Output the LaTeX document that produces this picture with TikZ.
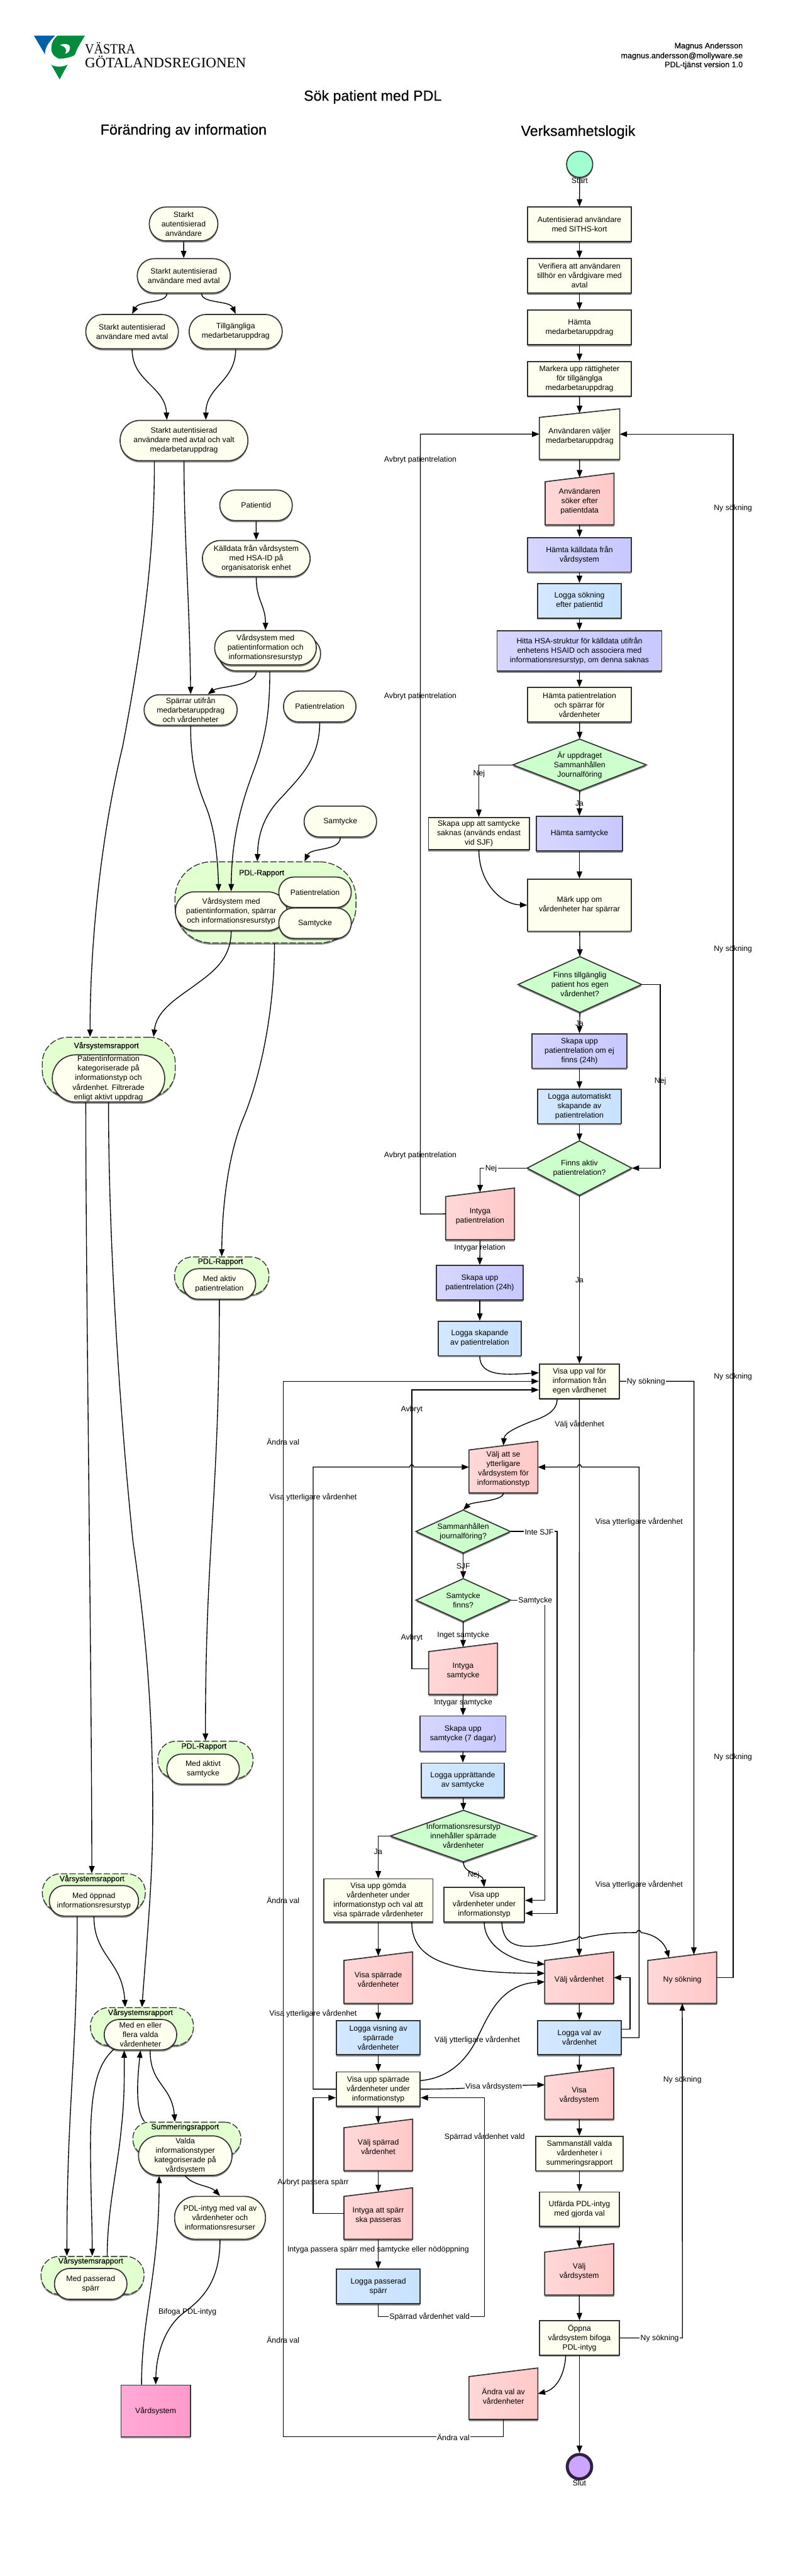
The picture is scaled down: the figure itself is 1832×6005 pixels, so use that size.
\documentclass[tikz,border=0pt]{standalone}
\usepackage{fontspec}
\setmainfont{Liberation Sans}
\newfontfamily\logofont{Liberation Serif}
\newfontfamily\heavyfont[FakeBold=0.35]{Liberation Sans}
\usetikzlibrary{arrows.meta,shadows,calc}
\definecolor{ln}{HTML}{333333}
\definecolor{yel}{HTML}{FFFFF0}
\definecolor{grn}{HTML}{CCFFCC}
\definecolor{grp}{HTML}{E2FFD0}
\definecolor{logob}{HTML}{0060A8}
\definecolor{logog}{HTML}{008C3C}
\tikzset{
  every node/.style={font=\fontsize{18}{22}\selectfont},
  sh/.style={drop shadow={shadow xshift=0pt,shadow yshift=-4pt,opacity=.45,fill=black}},
  box/.style={draw=ln,line width=2.5pt,sh,align=center,inner sep=0pt},
  ye/.style={fill=yel},
  pu/.style={left color={rgb,255:red,214;green,214;blue,255},right color={rgb,255:red,200;green,200;blue,255}},
  bl/.style={left color={rgb,255:red,212;green,232;blue,255},right color={rgb,255:red,200;green,226;blue,255}},
  pk/.style={left color={rgb,255:red,255;green,216;blue,216},right color={rgb,255:red,255;green,200;blue,200}},
  vs/.style={left color={rgb,255:red,255;green,170;blue,214},right color={rgb,255:red,255;green,153;blue,204}},
  txt/.style={align=center,inner sep=0pt},
  gtxt/.style={align=center,inner sep=0pt,font=\heavyfont\fontsize{18}{22}\selectfont},
  arr/.style={line width=2pt,black,-{Triangle[length=17pt,width=13pt]}},
  lab/.style={align=center,inner sep=0pt},
  labw/.style={align=center,fill=white,inner sep=2pt},
  ttl/.style={font=\heavyfont\fontsize{34}{40}\selectfont,inner sep=0pt},
  auth/.style={font=\heavyfont\fontsize{18.5}{23}\selectfont,anchor=east,inner sep=0pt},
}
\newcommand{\rbox}[7]{\node[box,#2,minimum width=#5pt,minimum height=#6pt] (#1) at (#3,#4) {#7};}
\newcommand{\pill}[6]{\pgfmathsetmacro{\pillr}{#5/2-0.5}%
  \node[box,ye,rounded corners=\pillr pt,minimum width=#4pt,minimum height=#5pt] (#1) at (#2,#3) {#6};}
\newcommand{\grpbox}[6]{\node[draw=ln,line width=2pt,dash pattern=on 15pt off 5pt,fill=grp,sh,inner sep=0pt,rounded corners=#6pt,minimum width=#4pt,minimum height=#5pt] (#1) at (#2,#3) {};}
\newcommand{\pform}[7]{%
  \pgfmathsetmacro{\pfxc}{(#3+#4)/2}\pgfmathsetmacro{\pfyl}{#5+20}%
  \pgfmathsetmacro{\pfyc}{(#5+10+#6)/2}\pgfmathsetmacro{\pfw}{#4-#3}%
  \pgfmathsetmacro{\pfh}{#6-#5-10}\pgfmathsetmacro{\pfys}{(#5+#6)/2}%
  \path[box,#2] (#3,\pfyl) -- (#4,#5) -- (#4,#6) -- (#3,#6) -- cycle;
  \node[txt,minimum width=\pfw pt,minimum height=\pfh pt] (#1) at (\pfxc,\pfyc) {#7};
  \coordinate (#1w) at (#3,\pfys);
  \coordinate (#1e) at (#4,\pfys);
}
\newcommand{\pdiam}[6]{%
  \pgfmathsetmacro{\dxa}{#2-#4/2}\pgfmathsetmacro{\dxb}{#2+#4/2}%
  \pgfmathsetmacro{\dya}{#3-#5/2}\pgfmathsetmacro{\dyb}{#3+#5/2}%
  \path[box,fill=grn] (\dxa,#3) -- (#2,\dya) -- (\dxb,#3) -- (#2,\dyb) -- cycle;
  \node[txt,minimum width=#4pt,minimum height=#5pt] (#1) at (#2,#3) {#6};
}
\begin{document}
\begin{tikzpicture}[x=1pt,y=-1pt]
\useasboundingbox (0,0) rectangle (1832,6005);
\fill[white] (0,0) rectangle (1832,6005);

% logo
\fill[logob] (79,83) -- (128.5,83) .. controls (112,100) and (104,112) .. (105,127) -- cycle;
\fill[logog] (134,83) -- (198,83) .. controls (188,100) and (178,115) .. (175,127) .. controls (172,132) and (150,137) .. (138,137) .. controls (125,132) and (118,122) .. (120,110) .. controls (120,98) and (126,90) .. (134,83) -- cycle;
\fill[white] (140,105) .. controls (152,100) and (165,103) .. (163,113) .. controls (162,120) and (157,125) .. (152,125) .. controls (156,118) and (156,110) .. (140,105) -- cycle;
\fill[logog] (119,150) .. controls (125,157) and (150,157) .. (158,150) -- (139,185) -- cycle;
\node[anchor=base west,inner sep=0pt,font=\logofont\fontsize{33}{33}\selectfont,xscale=.89] (logoa) at (198,125) {VÄSTRA};
\node[anchor=base west,inner sep=0pt,font=\logofont\fontsize{33.7}{33}\selectfont] (logob) at (198,157) {GÖTALANDSREGIONEN};

\node[auth] (au1) at (1732,108) {Magnus Andersson};
\node[auth] (au2) at (1732,131) {magnus.andersson@mollyware.se};
\node[auth] (au3) at (1732,152) {PDL-tjänst version 1.0};
\node[ttl] (title) at (869,226) {Sök patient med PDL};
\node[ttl] (hleft) at (428,305) {Förändring av information};
\node[ttl] (hright) at (1348,308) {Verksamhetslogik};

% ---------- left column
\pill{A}{428}{522}{160}{79}{Starkt\\autentisierad\\användare}
\pill{B}{428.5}{643}{217}{80}{Starkt autentisierad\\användare med avtal}
\pill{C}{308}{773}{216}{80}{Starkt autentisierad\\användare med avtal}
\pill{D}{549.5}{773}{217}{80}{Tillgängliga\\medarbetaruppdrag}
\pill{E}{429}{1027}{298}{94}{Starkt autentisierad\\användare med avtal och valt\\medarbetaruppdrag}
\pill{F}{597}{1178}{169}{71}{Patientid}
\pill{G}{597.5}{1302}{251}{84}{Källdata från vårdsystem\\med HSA-ID på\\organisatorisk enhet}
\pill{Hb}{629}{1524}{237}{80}{}
\pill{H}{619}{1510}{237}{80}{Vårdsystem med\\patientinformation och\\informationsresurstyp}
\pill{I}{444.5}{1655}{217}{71}{Spärrar utifrån\\medarbetaruppdrag\\och vårdenheter}
\pill{J}{745.5}{1647}{169}{72}{Patientrelation}
\pill{K}{793.5}{1915}{169}{72}{Samtycke}

\grpbox{L}{619}{2103.5}{422}{189}{85}
\node[gtxt] (Ltx) at (610,2036) {PDL-Rapport};
\pill{M}{539}{2124}{260}{90}{Vårdsystem med\\patientinformation, spärrar\\och informationsresurstyp}
\pill{N}{734.5}{2080}{169}{71}{Patientrelation}
\pill{O}{734.5}{2152}{169}{71}{Samtycke}

\grpbox{P}{253.6}{2487}{310}{138}{60}
\node[gtxt] (Ptx) at (248,2438) {Vårsystemsrapport};
\pill{Q}{253}{2514}{262}{110}{Patientinformation\\kategoriserade på\\informationstyp och\\vårdenhet. Filtrerade\\enligt aktivt uppdrag}

\grpbox{R}{517}{2974}{220}{88}{42}
\node[gtxt] (Rtx) at (514,2942) {PDL-Rapport};
\pill{S}{511.5}{2993}{169}{71}{Med aktiv\\patientrelation}

\grpbox{T}{479}{4102.5}{222}{87}{42}
\node[gtxt] (Ttx) at (475.5,4072) {PDL-Rapport};
\pill{U}{473.5}{4124}{169}{70}{Med aktivt\\samtycke}

\grpbox{V}{218.8}{4411.5}{240}{87}{42}
\node[gtxt] (Vtx) at (214.5,4380) {Vårsystemsrapport};
\pill{W}{219}{4431}{208}{71}{Med öppnad\\informationsresurstyp}

\grpbox{X}{331}{4724}{240}{88}{42}
\node[gtxt] (Xtx) at (327.5,4692) {Vårsystemsrapport};
\pill{Y}{327.5}{4743}{169}{71}{Med en eller\\flera valda\\vårdenheter}

\grpbox{Z}{435.75}{4986}{252}{78}{38}
\node[gtxt] (Ztx) at (431.5,4959) {Summeringsrapport};
\pill{AA}{432}{5025}{218}{92}{Valda\\informationstyper\\kategoriserade på\\vårdsystem}

\pill{AB}{513}{5170}{212}{100}{PDL-intyg med val av\\vårdenheter och\\informationsresurser}

\grpbox{AC}{215.75}{5304}{240}{88}{42}
\node[gtxt] (ACtx) at (211.5,5271) {Vårsystemsrapport};
\pill{AD}{211.5}{5324}{169}{72}{Med passerad\\spärr}

\rbox{AE}{vs}{363}{5620}{162}{120}{Vårdsystem}

% ---------- right column
\node[draw=ln,line width=2.5pt,sh,circle,inner sep=0pt,minimum size=61pt,fill={rgb,255:red,160;green,255;blue,208}] (start) at (1351.5,383) {};
\rbox{r1}{ye}{1351}{523}{241}{80.5}{Autentisierad användare\\med SITHS-kort}
\rbox{r2}{ye}{1351}{643}{241}{80.5}{Verifiera att användaren\\tillhör en vårdgivare med\\avtal}
\rbox{r3}{ye}{1351}{763.5}{241}{80.5}{Hämta\\medarbetaruppdrag}
\rbox{r4}{ye}{1351}{883}{241}{80.5}{Markera upp rättigheter\\för tillgänglga\\medarbetaruppdrag}
\pform{r5}{ye}{1257.6}{1445}{953}{1071}{Användaren väljer\\medarbetaruppdrag}
\pform{r6}{pk}{1271}{1431.5}{1103}{1223.5}{Användaren\\söker efter\\patientdata}
\rbox{r7}{pu}{1351}{1293.3}{241}{80.5}{Hämta källdata från\\vårdsystem}
\rbox{r8}{bl}{1351}{1400.5}{195}{80.5}{Logga sökning\\efter patientid}
\rbox{r9}{pu}{1351}{1517.3}{384}{94.5}{Hitta HSA-struktur för källdata utifrån\\enhetens HSAID och associera med\\informationsresurstyp, om denna saknas}
\rbox{r10}{ye}{1351}{1643}{241}{80.5}{Hämta patientrelation\\och spärrar för\\vårdenheter}
\pdiam{d1}{1351.5}{1783}{311}{120}{Är uppdraget\\Sammanhållen\\Journalföring}
\rbox{r11}{ye}{1116.5}{1943}{235}{75}{Skapa upp att samtycke\\saknas (används endast\\vid SJF)}
\rbox{r12}{pu}{1351}{1943}{201}{80.5}{Hämta samtycke}
\rbox{r13}{ye}{1351}{2110}{241}{121}{Märk upp om\\vårdenheter har spärrar}
\pdiam{d2}{1352}{2295}{288}{130}{Finns tillgänglig\\patient hos egen\\vårdenhet?}
\rbox{r14}{pu}{1351}{2450}{221}{80}{Skapa upp\\patientrelation om ej\\finns (24h)}
\rbox{r15}{bl}{1351}{2579}{195}{80}{Logga automatiskt\\skapande av\\patientrelation}
\pdiam{d3}{1351}{2723}{244}{127}{Finns aktiv\\patientrelation?}
\pform{p1}{pk}{1039}{1199.6}{2769.4}{2890}{Intyga\\patientrelation}
\rbox{r16}{pu}{1118.6}{2990}{202}{80}{Skapa upp\\patientrelation (24h)}
\rbox{r17}{bl}{1118.6}{3120}{194}{80}{Logga skapande\\av patientrelation}
\rbox{r18}{ye}{1351}{3220}{187}{80}{Visa upp val för\\information från\\egen vårdhenet}
\pform{p2}{pk}{1093.5}{1254}{3360}{3480}{Välj att se\\ytterligare\\vårdsystem för\\informationstyp}
\pdiam{d4}{1080}{3570}{220}{100}{Sammanhållen\\journalföring?}
\pdiam{d5}{1080}{3730}{220}{100}{Samtycke\\finns?}
\pform{p3}{pk}{999.4}{1160}{3830}{3950}{Intyga\\samtycke}
\rbox{r19}{pu}{1079.5}{4041}{200}{82}{Skapa upp\\samtycke (7 dagar)}
\rbox{r20}{bl}{1079}{4150}{193}{80}{Logga upprättande\\av samtycke}
\pdiam{d6}{1080.5}{4280}{341}{120}{Informationsresurstyp\\innehåller spärrade\\vårdenheter}
\rbox{r21}{ye}{882}{4430}{255}{100}{Visa upp gömda\\vårdenheter under\\informationstyp och val att\\visa spärrade vårdenheter}
\rbox{r22}{ye}{1129}{4440}{188}{80}{Visa upp\\vårdenheter under\\informationstyp}
\pform{p4}{pk}{802}{962}{4550}{4670}{Visa spärrade\\vårdenheter}
\pform{p5}{pk}{1270}{1431}{4550}{4670}{Välj vårdenhet}
\pform{p6}{pk}{1510.5}{1671}{4550}{4670}{Ny sökning}
\rbox{r23}{bl}{882}{4750}{195.5}{80}{Logga visning av\\spärrade\\vårdenheter}
\rbox{r24}{bl}{1351}{4750}{195}{80}{Logga val av\\vårdenhet}
\rbox{r25}{ye}{882}{4870}{195.5}{80}{Visa upp spärrade\\vårdenheter under\\informationstyp}
\pform{p7}{pk}{1270}{1431}{4820}{4940}{Visa\\vårdsystem}
\pform{p8}{pk}{802}{962}{4940}{5060}{Välj spärrad\\vårdenhet}
\rbox{r26}{ye}{1351}{5020}{203}{80}{Sammanställ valda\\vårdenheter i\\summeringsrapport}
\pform{p9}{pk}{802}{962}{5100}{5220}{Intyga att spärr\\ska passeras}
\rbox{r27}{ye}{1351}{5150}{187}{80}{Utfärda PDL-intyg\\med gjorda val}
\pform{p10}{pk}{1270}{1431}{5230}{5350}{Välj\\vårdsystem}
\rbox{r28}{bl}{882}{5330}{195.5}{80}{Logga passerad\\spärr}
\rbox{r29}{ye}{1351}{5450}{187}{80}{Öppna\\vårdsystem bifoga\\PDL-intyg}
\pform{p11}{pk}{1093.5}{1254}{5520}{5640}{Ändra val av\\vårdenheter}
\node[draw={rgb,255:red,46;green,34;blue,64},line width=7pt,sh,circle,inner sep=0pt,minimum size=57pt,fill={rgb,255:red,205;green,165;blue,255}] (end) at (1351,5750) {};

% ---------- left connectors
\draw[arr] (A) -- (B);
\draw[arr] ([xshift=-39.5pt]B.south) .. controls (389,708) and (325,700) .. (C.north);
\draw[arr] ([xshift=41.5pt]B.south) .. controls (470,708) and (535,700) .. (D.north);
\draw[arr] (C.south) .. controls (308,890) and (385,900) .. ([xshift=-40pt]E.north);
\draw[arr] (D.south) .. controls (549,890) and (480,900) .. ([xshift=51pt]E.north);
\draw[arr] ([xshift=-69pt]E.south) .. controls (360,1250) and (345,1430) .. (286,1740) .. controls (235,1950) and (210,2200) .. ([xshift=-43.6pt]P.north);
\draw[arr] (E.south) .. controls (429,1250) and (442,1400) .. (I.north);
\draw[arr] (F) -- (G);
\draw[arr] (G.south) .. controls (597,1400) and (619,1410) .. (H.north);
\draw[arr] ([xshift=-31.5pt]Hb.south) .. controls (597,1600) and (510,1600) .. ([xshift=40pt]I.north);
\draw[arr] (Hb.south) .. controls (629,1660) and (620,1720) .. (590,1800) .. controls (560,1880) and (540,1960) .. (M.north);
\draw[arr] (I.south) .. controls (444,1780) and (460,1830) .. (480,1880) .. controls (500,1930) and (507,1990) .. ([xshift=-29pt]M.north);
\draw[arr] (J.south) .. controls (745,1770) and (700,1810) .. (660,1855) .. controls (625,1890) and (602,1930) .. ([xshift=-19pt]L.north);
\draw[arr] (K.south) .. controls (793,1985) and (725,1975) .. ([xshift=91pt]L.north);
\draw[arr] (M.south) .. controls (539,2240) and (490,2270) .. (450,2300) .. controls (400,2335) and (365,2360) .. ([xshift=104.4pt]P.north);
\draw[arr] ([xshift=21pt]L.south) .. controls (640,2350) and (610,2500) .. (570,2600) .. controls (535,2680) and (518,2800) .. (R.north);
\draw[arr] ([xshift=-53pt]Q.south) .. controls (200,3000) and (214,3900) .. ([xshift=-4.8pt]V.north);
\draw[arr] (Q.south) .. controls (253,2900) and (280,3300) .. (310,3593) .. controls (340,3800) and (358,4000) .. (356,4253) .. controls (355,4400) and (340,4550) .. (X.north);
\draw[arr] (S.south) .. controls (511,3500) and (479,3600) .. (T.north);
\draw[arr] ([xshift=-39pt]W.south) .. controls (180,4800) and (156,4900) .. ([xshift=-59.75pt]AC.north);
\draw[arr] (W.south) .. controls (219,4560) and (285,4570) .. ([xshift=-39pt]X.north);
\draw[arr] ([xshift=-62pt,yshift=3pt]Y.south) .. controls (230,4810) and (211,4860) .. (211,5000) .. controls (211,5100) and (215,5180) .. ([xshift=-0.75pt]AC.north);
\draw[arr] ([xshift=34.25pt]AC.north) .. controls (250,5150) and (275,5050) .. (283,4960) .. controls (290,4900) and (290,4840) .. ([xshift=-38pt]Y.south);
\draw[arr] ([xshift=-98.75pt]Z.north) .. controls (315,4920) and (320,4850) .. (Y.south);
\draw[arr] ([xshift=22.5pt]Y.south) .. controls (350,4860) and (400,4860) .. ([xshift=-27.75pt]Z.north);
\draw[arr] (AA.south) .. controls (450,5095) and (490,5095) .. (AB.north);
\draw[arr] (AB.south) .. controls (513,5320) and (470,5360) .. (430,5390) .. controls (395,5415) and (365,5470) .. (AE.north);
\draw[arr] ([xshift=-33pt]AE.north) .. controls (330,5400) and (371,5300) .. ([xshift=-61pt]AA.south);

% ---------- right connectors
\draw[arr] (start) -- (r1);
\draw[arr] (r1) -- (r2);
\draw[arr] (r2) -- (r3);
\draw[arr] (r3) -- (r4);
\draw[arr] (r4) -- (r5.north);
\draw[arr] (r5.south) -- (r6.north);
\draw[arr] (r6.south) -- (r7);
\draw[arr] (r7) -- (r8);
\draw[arr] (r8) -- (r9);
\draw[arr] (r9) -- (r10);
\draw[arr] (r10) -- (d1.north);
\draw[arr] (d1.west) -| (r11.north);
\draw[arr] (d1.south) -- (r12.north);
\draw[arr] (r12) -- (r13);
\draw[arr] (r11.south) .. controls (1117,2060) and (1170,2108) .. (r13.west);
\draw[arr] (r13) -- (d2.north);
\draw[arr] (d2.south) -- (r14.north);
\draw[arr] (r14) -- (r15);
\draw[arr] (r15) -- (d3.north);
\draw[arr] (d2.east) -- (1539.5,2295) |- (d3.east);
\draw[arr] (d3.west) -| (p1.north);
\draw[arr] (d3.south) -- (r18.north);
\draw[arr] (p1w) -- (980,2830) |- (r5w);
\draw[arr] (p1.south) -- (r16.north);
\draw[arr] (r16) -- (r17);
\draw[arr] (r17.south) .. controls (1118.6,3210) and (1180,3205) .. ([yshift=20pt]r18.west);
\draw[arr] (p11.south) |- (660,5680) |- (r18.west);
\draw[arr] (p3w) -- (960,3890) |- ([yshift=-20pt]r18.west);
\draw[arr] (r18.east) -- (1618,3220) -- ([xshift=27pt,yshift=3.4pt]p6.north);
\draw[arr] (r18.south) -- (p5.north);
\draw[arr] ([xshift=-52pt]r18.south) .. controls (1299,3290) and (1270,3303) .. (1240,3313) .. controls (1205,3327) and (1176,3340) .. (p2.north);
\draw[arr] (r25.west) -- (730,4870) -- (730,3420) -- (955,3420) .. controls (957,3412) and (963,3412) .. (965,3420) -- (p2w);
\draw[arr] (r24.east) -- (1490,4750) -- (1490,3420) -- (1356,3420) .. controls (1354,3412) and (1348,3412) .. (1346,3420) -- (p2e);
\draw[arr] (p2.south) .. controls (1174,3500) and (1100,3500) .. (d4.north);
\draw[arr] (d4.south) -- (d5.north);
\draw[arr] (d4.east) -- (1299,3570) |- ([yshift=-20pt]r22.east);
\draw[arr] (d5.east) -- (1270,3730) |- ([yshift=10pt]r22.east);
\draw[arr] (d5.south) -- (p3.north);
\draw[arr] (p3.south) -- (r19.north);
\draw[arr] (r19) -- (r20);
\draw[arr] (r20) -- (d6.north);
\draw[arr] (d6.west) -| (r21.north);
\draw[arr] (d6.south) .. controls (1080,4370) and (1125,4365) .. (r22.north);
\draw[arr] (r21.south) -- (p4.north);
\draw[arr] ([xshift=78pt]r21.south) .. controls (960,4570) and (1050,4600) .. ([yshift=10pt]p5w);
\draw[arr] (r22.south) .. controls (1129,4530) and (1180,4570) .. ([yshift=31pt]p5w);
\draw[arr] ([xshift=41pt]r22.south) .. controls (1172,4525) and (1195,4538) .. (1235,4537) .. controls (1275,4536) and (1310,4528) .. (1346,4520) .. controls (1348,4513) and (1354,4513) .. (1356,4519) .. controls (1400,4507) and (1440,4505) .. (1484,4505) .. controls (1486,4498) and (1493,4498) .. (1495,4505) .. controls (1530,4510) and (1550,4530) .. ([xshift=-31pt,yshift=-4pt]p6.north);
\draw[arr] (p4.south) -- (r23.north);
\draw[arr] (r23) -- (r25);
\draw[arr] ([yshift=20pt]r25.east) .. controls (1040,4845) and (1080,4810) .. (1105,4766) .. controls (1135,4710) and (1160,4625) .. ([yshift=-10pt]p5w);
\draw[arr] (r25.east) .. controls (1050,4870) and (1100,4868) .. (1160,4862) -- ([yshift=20pt]p7w);
\draw[arr] (r25.south) -- (p8.north);
\draw[arr] (p8.south) -- (p9.north);
\draw[arr] (p9.south) -- (r28.north);
\draw[arr] (p9w) -- (730,5160) |- ([yshift=-20pt]r25.west);
\draw[arr] (r28.south) |- (1130,5400) |- ([yshift=-20pt]r25.east);
\draw[arr] (p5.south) -- (r24.north);
\draw[arr] ([yshift=20pt]r24.east) -- (1469,4730) |- (p5e);
\draw[arr] (r24.south) -- (p7.north);
\draw[arr] (p7.south) -- (r26.north);
\draw[arr] (r26) -- (r27);
\draw[arr] (r27.south) -- (p10.north);
\draw[arr] (p10.south) -- (r29.north);
\draw[arr] (r29.south) -- (end.north);
\draw[arr] ([xshift=-32pt]r29.south) .. controls (1316,5540) and (1295,5570) .. (p11e);
\draw[arr] (r29.east) -- (1591,5450) -- (p6.south);
\draw[arr] (p6e) -- (1709.5,4610) |- (r5e);

% ---------- labels
\node[lab] (lStart) at (1351.5,421) {Start};
\node[lab] (lSlut) at (1351,5788) {Slut};
\node[lab] (lap1) at (980,1072) {Avbryt patientrelation};
\node[lab] (lap2) at (980,1623) {Avbryt patientrelation};
\node[lab] (lap3) at (980,2694) {Avbryt patientrelation};
\node[lab] (lny1) at (1709,1185) {Ny sökning};
\node[lab] (lny2) at (1709,2213) {Ny sökning};
\node[lab] (lny3) at (1709,3209) {Ny sökning};
\node[lab] (lny4) at (1709,4096) {Ny sökning};
\node[lab] (lnej1) at (1117,1804) {Nej};
\node[lab] (lja1) at (1351,1873) {Ja};
\node[lab] (lja2) at (1351,2385.5) {Ja};
\node[lab] (lnej2) at (1539.6,2521) {Nej};
\node[labw] (lnej3) at (1145,2724) {Nej};
\node[lab] (lja3) at (1351,2984) {Ja};
\node[lab] (lint) at (1118.7,2909) {Intygar relation};
\node[labw] (lny5) at (1506,3221) {Ny sökning};
\node[lab] (lvv) at (1351,3320) {Välj vårdenhet};
\node[lab] (lav1) at (960,3286) {Avbryt};
\node[lab] (lav2) at (960,3817.6) {Avbryt};
\node[lab] (lan1) at (660,3361) {Ändra val};
\node[lab] (lan2) at (660,4429) {Ändra val};
\node[lab] (lan3) at (660,5454) {Ändra val};
\node[labw] (lan4) at (1057,5681) {Ändra val};
\node[lab] (lvy1) at (730,3491) {Visa ytterligare vårdenhet};
\node[lab] (lvy2) at (730,4694) {Visa ytterligare vårdenhet};
\node[lab] (lvy3) at (1490,3547) {Visa ytterligare vårdenhet};
\node[lab] (lvy4) at (1490,4393) {Visa ytterligare vårdenhet};
\node[labw] (lis) at (1257,3571) {Inte SJF};
\node[labw] (lsa) at (1248,3731) {Samtycke};
\node[lab] (lsjf) at (1080,3651) {SJF};
\node[lab] (ligs) at (1080,3812) {Inget samtycke};
\node[lab] (lins) at (1080,3969) {Intygar samtycke};
\node[lab] (lja4) at (881.6,4317) {Ja};
\node[lab] (lnej4) at (1104,4371) {Nej};
\node[lab] (lvyv) at (1112.6,4755) {Välj ytterligare vårdenhet};
\node[labw] (lvs) at (1151,4864) {Visa vårdsystem};
\node[lab] (lapa) at (730,5088) {Avbryt passera spärr};
\node[lab] (lipa) at (881.6,5244) {Intyga passera spärr med samtycke eller nödöppning};
\node[lab] (lsv1) at (1130,4981) {Spärrad vårdenhet vald};
\node[labw] (lsv2) at (1001.7,5401) {Spärrad vårdenhet vald};
\node[labw] (lny6) at (1538,5451) {Ny sökning};
\node[lab] (lny7) at (1591,4848) {Ny sökning};
\node[lab] (lbif) at (437,5390) {Bifoga PDL-intyg};
\end{tikzpicture}
\end{document}
